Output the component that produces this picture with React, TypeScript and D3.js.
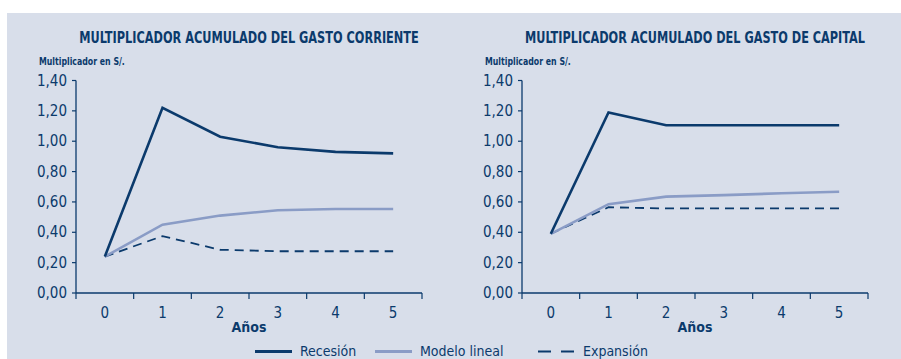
import React, { useLayoutEffect, useRef, useState } from "react";
import * as d3 from "d3";

const years = ["0", "1", "2", "3", "4", "5"];
const yTicks = [0, 0.2, 0.4, 0.6, 0.8, 1.0, 1.2, 1.4];

const titles = [
  "MULTIPLICADOR ACUMULADO DEL GASTO CORRIENTE",
  "MULTIPLICADOR ACUMULADO DEL GASTO DE CAPITAL",
];

// Gasto corriente
const corrienteRecesion = [0.24, 1.22, 1.03, 0.96, 0.93, 0.92];
const corrienteLineal = [0.24, 0.45, 0.51, 0.545, 0.553, 0.553];
const corrienteExpansion = [0.24, 0.375, 0.285, 0.275, 0.275, 0.275];

// Gasto de capital
const capitalRecesion = [0.39, 1.19, 1.105, 1.105, 1.105, 1.105];
const capitalLineal = [0.39, 0.585, 0.635, 0.645, 0.657, 0.667];
const capitalExpansion = [0.39, 0.565, 0.557, 0.557, 0.557, 0.557];

const seriesNames = ["Recesión", "Modelo lineal", "Expansión"];

const NAVY = "#0b3a6c";
const LIGHT = "#8a9cc6";
const BG = "#d8deea";
const FONT = "'Liberation Sans Narrow', 'DejaVu Sans Condensed', 'Arial Narrow', sans-serif";

const fmt = (v: number) => v.toFixed(2).replace(".", ",");

function FitText({ x, y, width, anchor, children, ...rest }: any) {
  const ref = useRef<SVGTextElement>(null);
  const [s, setS] = useState(1);
  useLayoutEffect(() => {
    if (ref.current) {
      const w = ref.current.getComputedTextLength();
      if (w > 0) setS(width / w);
    }
  }, [width, children]);
  return (
    <text ref={ref} transform={`translate(${x},${y}) scale(${s},1)`} textAnchor={anchor} {...rest}>
      {children}
    </text>
  );
}

function Panel({ x0, title, rec, lin, exp }: { x0: number; title: string; rec: number[]; lin: number[]; exp: number[] }) {
  const left = x0;
  const right = x0 + 346;
  const x = d3.scaleBand<string>().domain(years).range([left, right]);
  const y = d3.scaleLinear().domain([0, 1.4]).range([293, 80.5]);
  const line = d3
    .line<number>()
    .x((_, i) => (x(years[i]) as number) + x.bandwidth() / 2)
    .y((d) => y(d));
  const boundaries = years.map((c) => x(c) as number).concat([right]);
  const cx = (left + right) / 2;
  return (
    <g>
      <FitText x={cx} y={43} width={340} anchor="middle" fontFamily={FONT} fontWeight="bold" fontSize={16.5} fill={NAVY}>
        {title}
      </FitText>
      <FitText x={left - 37} y={65} width={86} anchor="start" fontFamily={FONT} fontWeight="bold" fontSize={10.5} fill={NAVY}>
        Multiplicador en S/.
      </FitText>
      {/* y axis */}
      <line x1={left} x2={left} y1={y(1.4)} y2={y(0)} stroke={NAVY} strokeWidth={1.3} />
      {yTicks.map((t) => (
        <g key={t}>
          <line x1={left - 4} x2={left} y1={y(t)} y2={y(t)} stroke={NAVY} strokeWidth={1.2} />
          <text x={left - 9} y={y(t) + 5} textAnchor="end" fontFamily={FONT} fontSize={15} fill={NAVY}>
            {fmt(t)}
          </text>
        </g>
      ))}
      {/* x axis */}
      <line x1={left} x2={right} y1={y(0)} y2={y(0)} stroke={NAVY} strokeWidth={1.5} />
      {boundaries.map((b, i) => (
        <line key={i} x1={b} x2={b} y1={y(0)} y2={y(0) + 6} stroke={NAVY} strokeWidth={1.2} />
      ))}
      {years.map((c) => (
        <text key={c} x={(x(c) as number) + x.bandwidth() / 2} y={318} textAnchor="middle" fontFamily={FONT} fontSize={15} fill={NAVY}>
          {c}
        </text>
      ))}
      <text x={cx} y={332} textAnchor="middle" fontFamily={FONT} fontWeight="bold" fontSize={14} fill={NAVY}>
        Años
      </text>
      <path d={line(exp) || ""} fill="none" stroke={NAVY} strokeWidth={1.8} strokeDasharray="9,6" />
      <path d={line(lin) || ""} fill="none" stroke={LIGHT} strokeWidth={2.6} />
      <path d={line(rec) || ""} fill="none" stroke={NAVY} strokeWidth={2.6} />
    </g>
  );
}

export default function App() {
  const legend = [
    { name: seriesNames[0], x1: 255, x2: 292, tx: 300, color: NAVY, dash: undefined, w: 3 },
    { name: seriesNames[1], x1: 375, x2: 412, tx: 420, color: LIGHT, dash: undefined, w: 3 },
    { name: seriesNames[2], x1: 538, x2: 574, tx: 583, color: NAVY, dash: "13,10", w: 2 },
  ];
  return (
    <svg width={901} height={359} style={{ position: "absolute", left: 0, top: 0 }}>
      <rect x={0} y={0} width={901} height={359} fill="#ffffff" />
      <rect x={7} y={13} width={894} height={346} fill={BG} />
      <Panel x0={76} title={titles[0]} rec={corrienteRecesion} lin={corrienteLineal} exp={corrienteExpansion} />
      <Panel x0={522} title={titles[1]} rec={capitalRecesion} lin={capitalLineal} exp={capitalExpansion} />
      {legend.map((l) => (
        <g key={l.name}>
          <line x1={l.x1} x2={l.x2} y1={351.5} y2={351.5} stroke={l.color} strokeWidth={l.w} strokeDasharray={l.dash} />
          <text x={l.tx} y={356} fontFamily={FONT} fontSize={14} fill={NAVY}>
            {l.name}
          </text>
        </g>
      ))}
    </svg>
  );
}
